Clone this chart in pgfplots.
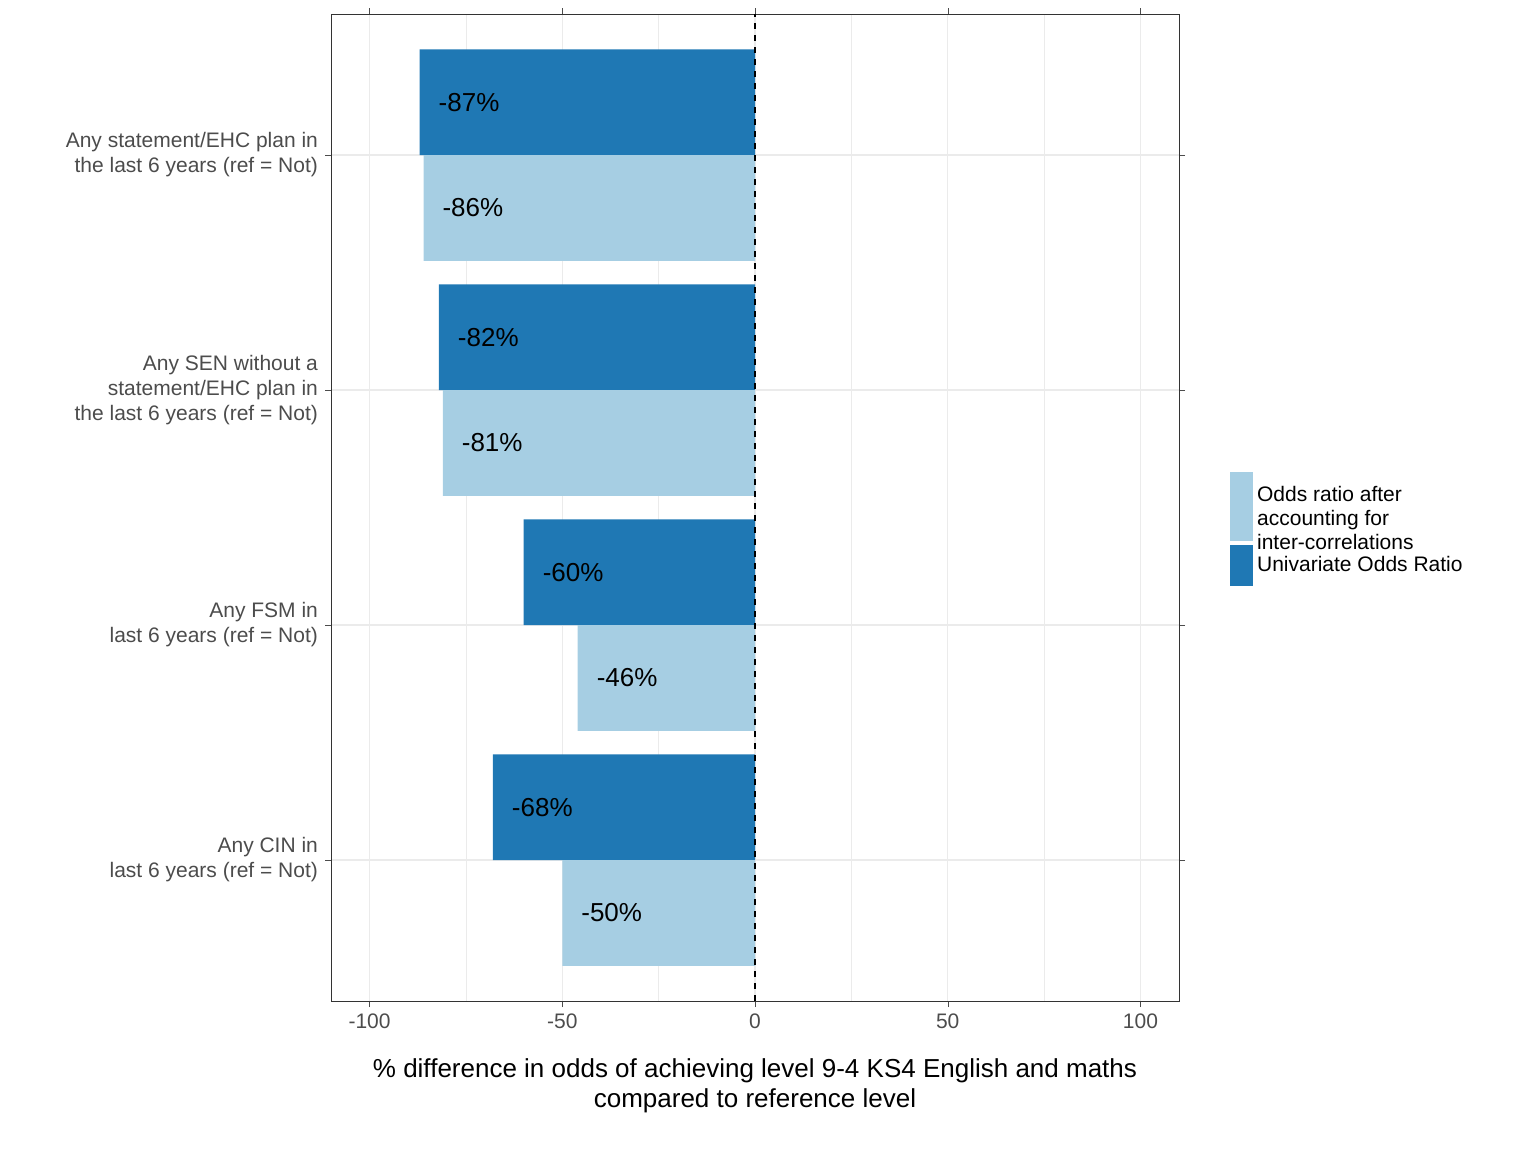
\documentclass[border=0pt]{standalone}
\usepackage{pgfplots}
\pgfplotsset{compat=1.18}
\usepackage{fontspec}
\setmainfont{Liberation Sans}
\definecolor{dk}{HTML}{1F78B4}
\definecolor{lt}{HTML}{A6CEE3}
\definecolor{gr}{HTML}{EBEBEB}
\begin{document}
\begin{tikzpicture}
\useasboundingbox (0pt,0pt) rectangle (768pt,576pt);
\begin{axis}[at={(165.5pt,75.5pt)}, anchor=south west, scale only axis,
 width=424pt, height=493.5pt,
 xmin=-110, xmax=110, ymin=0.4, ymax=4.6,
 xtick={-100,-50,0,50,100}, minor xtick={-75,-25,25,75},
 ytick={1,2,3,4},
 yticklabels={{Any CIN in\\last 6 years (ref = Not)},{Any FSM in\\last 6 years (ref = Not)},{Any SEN without a\\statement/EHC plan in\\the last 6 years (ref = Not)},{Any statement/EHC plan in\\the last 6 years (ref = Not)}},
 yticklabel style={align=right, font=\fontsize{10.5}{12.5}\selectfont, text=black!70},
 xticklabel style={font=\fontsize{10.5}{12}\selectfont, text=black!70},
 /pgf/number format/assume math mode=true,
 xmajorgrids, ymajorgrids, xminorgrids,
 major grid style={gr, line width=0.6pt}, minor grid style={gr, line width=0.4pt},
 tick align=outside, major tick length=3pt, minor tick length=0pt,
 tick style={black!70},
 axis line style={black!80},
 xlabel={\% difference in odds of achieving level 9-4 KS4 English and maths\\compared to reference level},
 xlabel style={align=center, font=\fontsize{13}{15}\selectfont, yshift=-8pt},
 legend style={at={(1.053,0.478)}, anchor=west, draw=none, fill=none, font=\fontsize{10.5}{12}\selectfont, row sep=2pt},
 legend cell align=left,
 nodes near coords={\pgfmathprintnumber{\pgfplotspointmeta}\%},
 point meta=x,
 every node near coord/.style={anchor=west, xshift=6pt, font=\fontsize{13}{15}\selectfont, black},
]
\addplot[xbar, bar width=0.45, bar shift=0pt, fill=dk, draw=none, forget plot] coordinates {(-87,4.225) (-82,3.225) (-60,2.225) (-68,1.225)};
\addplot[xbar, bar width=0.45, bar shift=0pt, fill=lt, draw=none, forget plot] coordinates {(-86,3.775) (-81,2.775) (-46,1.775) (-50,0.775)};
\draw[dashed, line width=0.6pt] (axis cs:0,0.4) -- (axis cs:0,4.6);
\addlegendimage{legend image code/.code={\fill[lt] (0,-17pt) rectangle (11pt,17pt);}}
\addlegendentry{\begin{tabular}{@{}l@{}}Odds ratio after\\accounting for\\inter-correlations\end{tabular}}
\addlegendimage{legend image code/.code={\fill[dk] (0,-10pt) rectangle (11pt,10pt);}}
\addlegendentry{Univariate Odds Ratio}
\end{axis}
\end{tikzpicture}
\end{document}
